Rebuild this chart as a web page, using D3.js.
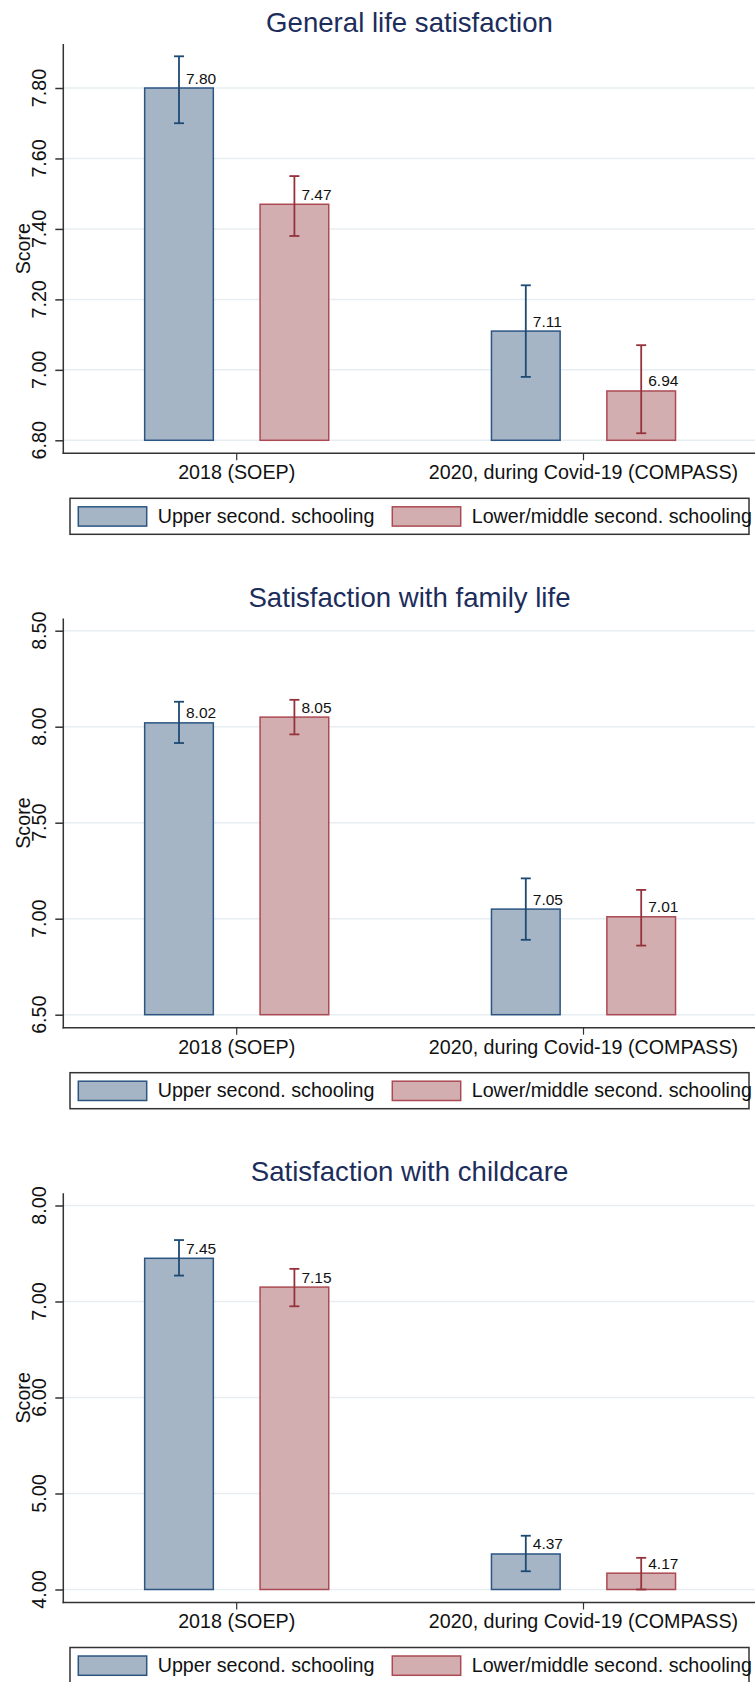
<!DOCTYPE html>
<html>
<head>
<meta charset="utf-8">
<script src="https://cdn.jsdelivr.net/npm/d3@7"></script>
<style>
  html, body { margin: 0; padding: 0; background: #fff; }
  svg { display: block; }
  text { font-family: "Liberation Sans", Arial, sans-serif; }
</style>
</head>
<body>
<div id="chart"></div>
<script>
// ---------------- DATA ----------------
const categories = ["2018 (SOEP)", "2020, during Covid-19 (COMPASS)"];
const groups = ["Upper second. schooling", "Lower/middle second. schooling"];
const titles = ["General life satisfaction", "Satisfaction with family life", "Satisfaction with childcare"];
const yAxisTitle = "Score";

// panel 1: General life satisfaction
const lifeTicks = [6.8, 7.0, 7.2, 7.4, 7.6, 7.8];
const lifeUpper = [7.80, 7.11];
const lifeLower = [7.47, 6.94];
const lifeUpperLo = [7.70, 6.98];
const lifeUpperHi = [7.89, 7.24];
const lifeLowerLo = [7.38, 6.82];
const lifeLowerHi = [7.55, 7.07];

// panel 2: Satisfaction with family life
const familyTicks = [6.5, 7.0, 7.5, 8.0, 8.5];
const familyUpper = [8.02, 7.05];
const familyLower = [8.05, 7.01];
const familyUpperLo = [7.915, 6.89];
const familyUpperHi = [8.13, 7.21];
const familyLowerLo = [7.96, 6.86];
const familyLowerHi = [8.14, 7.15];

// panel 3: Satisfaction with childcare
const childTicks = [4, 5, 6, 7, 8];
const childUpper = [7.45, 4.37];
const childLower = [7.15, 4.17];
const childUpperLo = [7.27, 4.19];
const childUpperHi = [7.64, 4.56];
const childLowerLo = [6.95, 4.00];
const childLowerHi = [7.34, 4.33];

// ---------------- BUILD ----------------
const panels = [
  { title: titles[0], ticks: lifeTicks, vals: [lifeUpper, lifeLower], lo: [lifeUpperLo, lifeLowerLo], hi: [lifeUpperHi, lifeLowerHi] },
  { title: titles[1], ticks: familyTicks, vals: [familyUpper, familyLower], lo: [familyUpperLo, familyLowerLo], hi: [familyUpperHi, familyLowerHi] },
  { title: titles[2], ticks: childTicks, vals: [childUpper, childLower], lo: [childUpperLo, childLowerLo], hi: [childUpperHi, childLowerHi] }
];

const W = 755, H = 1682;
const panelOffsets = [0, 574.4, 1149.2];
const fillCol = ["#a5b5c6", "#d3aeb1"];
const strokeCol = ["#2c5582", "#ab4a53"];
const errCol = ["#1d4a73", "#95333c"];
const fontMain = "19.7px";

const svg = d3.select("#chart").append("svg")
  .attr("width", W).attr("height", H);

const axisX0 = 63.3;
const x = d3.scaleBand().domain(categories).range([axisX0, 756.9]).padding(0);
const xSub = d3.scaleBand().domain(groups).range([0, x.bandwidth()])
  .paddingInner(0.405).paddingOuter(0.705);

panels.forEach((p, pi) => {
  const oy = panelOffsets[pi];
  const g = svg.append("g").attr("transform", `translate(0,${oy})`);

  const yMin = d3.min(p.ticks);
  const yMax = Math.max(d3.max(p.ticks), d3.max(p.hi.flat()));
  const y = d3.scaleLinear().domain([yMin, yMax]).range([440.3, 56.3]);

  const plotTop = 44, axisY = 453.3;

  // title
  g.append("text")
    .attr("x", 409.5).attr("y", 32.3)
    .attr("text-anchor", "middle")
    .attr("font-size", "27.6px")
    .attr("fill", "#1c2d5c")
    .text(p.title);

  // gridlines
  g.append("g").selectAll("line").data(p.ticks).join("line")
    .attr("x1", axisX0).attr("x2", W)
    .attr("y1", d => y(d)).attr("y2", d => y(d))
    .attr("stroke", "#e7eef2").attr("stroke-width", 1.5);

  // bars
  const rows = [];
  categories.forEach((c, ci) => {
    groups.forEach((gr, gi) => {
      rows.push({ c, gr, gi, v: p.vals[gi][ci], lo: p.lo[gi][ci], hi: p.hi[gi][ci] });
    });
  });

  g.append("g").selectAll("rect").data(rows).join("rect")
    .attr("x", d => x(d.c) + xSub(d.gr))
    .attr("width", xSub.bandwidth())
    .attr("y", d => y(d.v))
    .attr("height", d => y(yMin) - y(d.v))
    .attr("fill", d => fillCol[d.gi])
    .attr("stroke", d => strokeCol[d.gi])
    .attr("stroke-width", 1.5);

  // error bars
  const eb = g.append("g").selectAll("g").data(rows).join("g")
    .attr("stroke", d => errCol[d.gi]).attr("stroke-width", 1.8);
  const cx = d => x(d.c) + xSub(d.gr) + xSub.bandwidth() / 2;
  eb.append("line")
    .attr("x1", cx).attr("x2", cx)
    .attr("y1", d => y(d.lo)).attr("y2", d => y(d.hi));
  eb.append("line")
    .attr("x1", d => cx(d) - 5).attr("x2", d => cx(d) + 5)
    .attr("y1", d => y(d.hi)).attr("y2", d => y(d.hi));
  eb.append("line")
    .attr("x1", d => cx(d) - 5).attr("x2", d => cx(d) + 5)
    .attr("y1", d => y(d.lo)).attr("y2", d => y(d.lo));

  // value labels
  g.append("g").selectAll("text").data(rows).join("text")
    .attr("x", d => cx(d) + 7)
    .attr("y", d => y(d.v) - 4.5)
    .attr("font-size", "15.5px")
    .attr("fill", "#111")
    .text(d => d3.format(".2f")(d.v));

  // y axis
  const yAxis = d3.axisLeft(y).tickValues(p.ticks).tickSize(8).tickFormat(d3.format(".2f"));
  const ya = g.append("g").attr("transform", `translate(${axisX0},0)`).call(yAxis);
  ya.select(".domain").remove();
  ya.selectAll(".tick line").attr("stroke", "#333").attr("stroke-width", 1.5);
  ya.selectAll(".tick text").remove();
  g.append("line").attr("x1", axisX0).attr("x2", axisX0)
    .attr("y1", plotTop).attr("y2", axisY + 0.75)
    .attr("stroke", "#333").attr("stroke-width", 1.5);
  g.append("g").selectAll("text").data(p.ticks).join("text")
    .attr("transform", d => `translate(45.6,${y(d)}) rotate(-90)`)
    .attr("text-anchor", "middle")
    .attr("font-size", fontMain)
    .attr("fill", "#111")
    .text(d => d3.format(".2f")(d));

  // y axis title
  g.append("text")
    .attr("transform", `translate(29.5,${(plotTop + axisY) / 2}) rotate(-90)`)
    .attr("text-anchor", "middle")
    .attr("font-size", fontMain)
    .attr("fill", "#111")
    .text(yAxisTitle);

  // x axis
  const xAxis = d3.axisBottom(x).tickSize(7).tickFormat(d => d);
  const xa = g.append("g").attr("transform", `translate(0,${axisY})`).call(xAxis);
  xa.select(".domain").remove();
  xa.selectAll(".tick line").attr("stroke", "#333").attr("stroke-width", 1.2);
  xa.selectAll(".tick text").remove();
  g.append("line").attr("x1", axisX0 - 0.75).attr("x2", W)
    .attr("y1", axisY).attr("y2", axisY)
    .attr("stroke", "#333").attr("stroke-width", 1.5);
  g.append("g").selectAll("text").data(categories).join("text")
    .attr("x", d => x(d) + x.bandwidth() / 2)
    .attr("y", 479.3)
    .attr("text-anchor", "middle")
    .attr("font-size", fontMain)
    .attr("fill", "#111")
    .text(d => d);

  // legend
  const lg = g.append("g").attr("transform", "translate(0,498.3)");
  lg.append("rect").attr("x", 70).attr("y", 0).attr("width", 679).attr("height", 36)
    .attr("fill", "#fff").attr("stroke", "#333").attr("stroke-width", 1.5);
  const swX = [78.3, 392.3], txX = [157.7, 471.7];
  groups.forEach((gr, gi) => {
    lg.append("rect").attr("x", swX[gi]).attr("y", 8.5).attr("width", 68.4).attr("height", 19.3)
      .attr("fill", fillCol[gi]).attr("stroke", strokeCol[gi]).attr("stroke-width", 1.5);
    lg.append("text").attr("x", txX[gi]).attr("y", 24.3)
      .attr("font-size", fontMain).attr("fill", "#111").text(gr);
  });
});
</script>
</body>
</html>
